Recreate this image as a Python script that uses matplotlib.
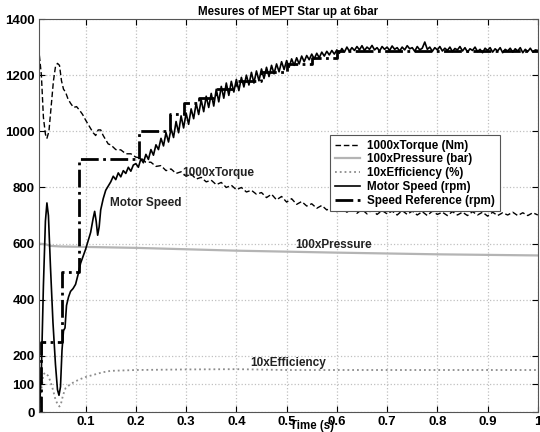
import numpy as np
import matplotlib
matplotlib.use("Agg")
import matplotlib.pyplot as plt

plt.rcParams['font.family'] = ['Liberation Sans', 'DejaVu Sans']
plt.rcParams['font.weight'] = 'bold'

# Motor speed (rpm): start-up transient, then samples every 5 ms from 0.15 s
speed_t0 = [0.008, 0.012, 0.016, 0.020, 0.023, 0.026, 0.030, 0.035, 0.040, 0.044,
            0.047, 0.050, 0.053, 0.056, 0.059, 0.062, 0.066, 0.070, 0.075, 0.080,
            0.085, 0.090, 0.095, 0.100, 0.105, 0.110, 0.115, 0.118, 0.121, 0.124,
            0.127, 0.130, 0.135, 0.140, 0.145]
speed_v0 = [0, 150, 450, 680, 745, 700, 520, 320, 170, 80,
            60, 90, 220, 290, 300, 380, 410, 430, 440, 455,
            490, 530, 555, 580, 610, 640, 690, 715, 680, 630,
            660, 720, 760, 790, 805]
speed_v1 = [820, 840, 828, 852, 838, 860, 850, 872, 858, 880,
            885, 872, 902, 888, 918, 900, 935, 915, 952, 935,
            975, 948, 995, 962, 1010, 978, 1035, 995, 1055, 1012,
            1065, 1025, 1080, 1045, 1100, 1060, 1112, 1070, 1125, 1085,
            1135, 1090, 1150, 1105, 1160, 1118, 1172, 1128, 1178, 1140,
            1185, 1145, 1192, 1158, 1200, 1165, 1210, 1172, 1215, 1180,
            1222, 1188, 1228, 1195, 1235, 1205, 1240, 1212, 1248, 1220,
            1252, 1228, 1258, 1235, 1262, 1240, 1268, 1248, 1270, 1255,
            1275, 1258, 1278, 1262, 1282, 1268, 1285, 1272, 1288, 1275,
            1290, 1278, 1295, 1282, 1300, 1285, 1298, 1288, 1302, 1290,
            1305, 1288, 1300, 1292, 1306, 1290, 1298, 1286, 1302, 1292,
            1300, 1288, 1304, 1292, 1298, 1286, 1300, 1290, 1305, 1294,
            1298, 1285, 1302, 1290, 1296, 1318, 1292, 1300, 1285, 1298,
            1290, 1302, 1286, 1296, 1288, 1300, 1284, 1295, 1290, 1302,
            1286, 1298, 1282, 1294, 1288, 1300, 1284, 1292, 1280, 1296,
            1288, 1298, 1282, 1294, 1286, 1298, 1280, 1292, 1286, 1296,
            1282, 1294, 1286, 1298, 1280, 1292, 1284, 1296, 1282, 1290,
            1288]

# 1000 x torque (Nm)
torque_t0 = [0.008, 0.012, 0.016, 0.020, 0.023, 0.027, 0.031, 0.036, 0.040, 0.044,
             0.048, 0.052, 0.056, 0.060, 0.065, 0.070, 0.076, 0.082, 0.088, 0.094,
             0.100, 0.105, 0.110, 0.115, 0.120, 0.125, 0.130, 0.135, 0.140, 0.145]
torque_v0 = [1270, 1200, 1050, 990, 975, 1000, 1080, 1180, 1230, 1242,
             1235, 1180, 1150, 1140, 1115, 1100, 1085, 1088, 1075, 1060,
             1040, 1025, 1010, 995, 985, 1005, 1005, 985, 970, 955]
torque_v1 = [952, 935, 934, 920, 920, 908, 905, 890, 890, 875,
             878, 860, 866, 850, 856, 840, 848, 830, 836, 820,
             826, 810, 818, 800, 808, 792, 800, 784, 790, 776,
             782, 764, 776, 756, 768, 748, 760, 740, 750, 734,
             742, 726, 736, 720, 730, 714, 726, 712, 724, 708,
             722, 706, 720, 704, 718, 706, 716, 702, 718, 704,
             716, 702, 714, 700, 716, 704, 712, 700, 714, 702,
             712, 700, 714, 702, 712, 698, 712, 700, 710, 702,
             712, 700, 710, 700, 710, 702]

# 100 x pressure (bar)
press_t = [0.008, 0.02, 0.03, 0.05, 0.2, 0.4, 0.6, 0.8, 1.0]
press_v = [600, 598, 592, 590, 585, 575, 568, 562, 558]

# 10 x efficiency (%)
eff_t = [0.008, 0.012, 0.016, 0.020, 0.025, 0.030, 0.035, 0.040, 0.045, 0.048,
         0.051, 0.055, 0.060, 0.070, 0.080, 0.090, 0.100, 0.110, 0.120, 0.130,
         0.140, 0.150, 0.200, 0.300, 0.400, 0.500, 0.700, 1.0]
eff_v = [0, 80, 135, 140, 130, 110, 80, 45, 25, 20,
         30, 60, 85, 100, 110, 118, 125, 130, 135, 140,
         144, 147, 150, 152, 153, 150, 150, 150]

# speed reference (rpm), stepwise
ref_t = [0.008, 0.011, 0.054, 0.086, 0.207, 0.268, 0.296, 0.326, 0.36, 0.40,
         0.45, 0.50, 0.55, 0.60, 1.0]
ref_v = [0, 250, 500, 900, 1000, 1060, 1100, 1120, 1150, 1180,
         1210, 1240, 1260, 1285, 1290]

speed_t = speed_t0 + list(np.round(np.arange(0.150, 1.0001, 0.005), 3))
speed_v = speed_v0 + speed_v1
torque_t = torque_t0 + list(np.round(np.arange(0.15, 1.0001, 0.01), 2))
torque_v = torque_v0 + torque_v1

fig = plt.figure(figsize=(5.4, 4.32), dpi=100)
ax = fig.add_axes([0.072, 0.046, 0.924, 0.91])

ax.plot(torque_t, torque_v, color='black', lw=1.0, ls=(0, (4, 2)), label='1000xTorque (Nm)')
ax.plot(press_t, press_v, color='#b4b4b4', lw=1.6, label='100xPressure (bar)')
ax.plot(eff_t, eff_v, color='#8c8c8c', lw=1.3, ls=':', label='10xEfficiency (%)')
ax.plot(speed_t, speed_v, color='black', lw=1.2, label='Motor Speed (rpm)')
ax.plot(ref_t, ref_v, color='black', lw=2.0, ls='-.', drawstyle='steps-post',
        label='Speed Reference (rpm)')

ax.set_xlim(0.007, 1.0)
ax.set_ylim(0, 1400)
ax.set_xticks([0.1, 0.2, 0.3, 0.4, 0.5, 0.6, 0.7, 0.8, 0.9, 1])
ax.set_xticklabels(['0.1', '0.2', '0.3', '0.4', '0.5', '0.6', '0.7', '0.8', '0.9', '1'])
ax.set_yticks([0, 100, 200, 400, 600, 800, 1000, 1200, 1400])
ax.grid(True, color='#c0c0c0', ls=':', lw=0.9)
ax.tick_params(direction='in', labelsize=9.5, length=4, right=True, top=True, pad=3)
for lab in ax.get_xticklabels() + ax.get_yticklabels():
    lab.set_fontweight('bold')
for s in ax.spines.values():
    s.set_color('#555555')

ax.set_title('Mesures of MEPT Star up at 6bar', fontsize=8.3, fontweight='bold', pad=3)
ax.text(0.548, -0.036, 'Time (s)', transform=ax.transAxes, fontsize=8.3, fontweight='bold',
        ha='center', va='center')

ax.text(0.292, 851, '1000xTorque', fontsize=8.5, fontweight='bold', color='#222222', va='center')
ax.text(0.148, 745, 'Motor Speed', fontsize=8.5, fontweight='bold', color='#222222', va='center')
ax.text(0.518, 595, '100xPressure', fontsize=8.5, fontweight='bold', color='#222222', va='center')
ax.text(0.427, 175, '10xEfficiency', fontsize=8.5, fontweight='bold', color='#222222', va='center')

leg = ax.legend(loc='upper left', bbox_to_anchor=(0.600, 0.701), bbox_transform=fig.transFigure,
                fontsize=8.4, frameon=True, fancybox=False, framealpha=1, edgecolor='#555555',
                handlelength=2.2, labelspacing=0.15, borderpad=0.4, handletextpad=0.6)
for t in leg.get_texts():
    t.set_fontweight('bold')
leg.get_frame().set_linewidth(0.8)

fig.savefig('out.png', dpi=100)
